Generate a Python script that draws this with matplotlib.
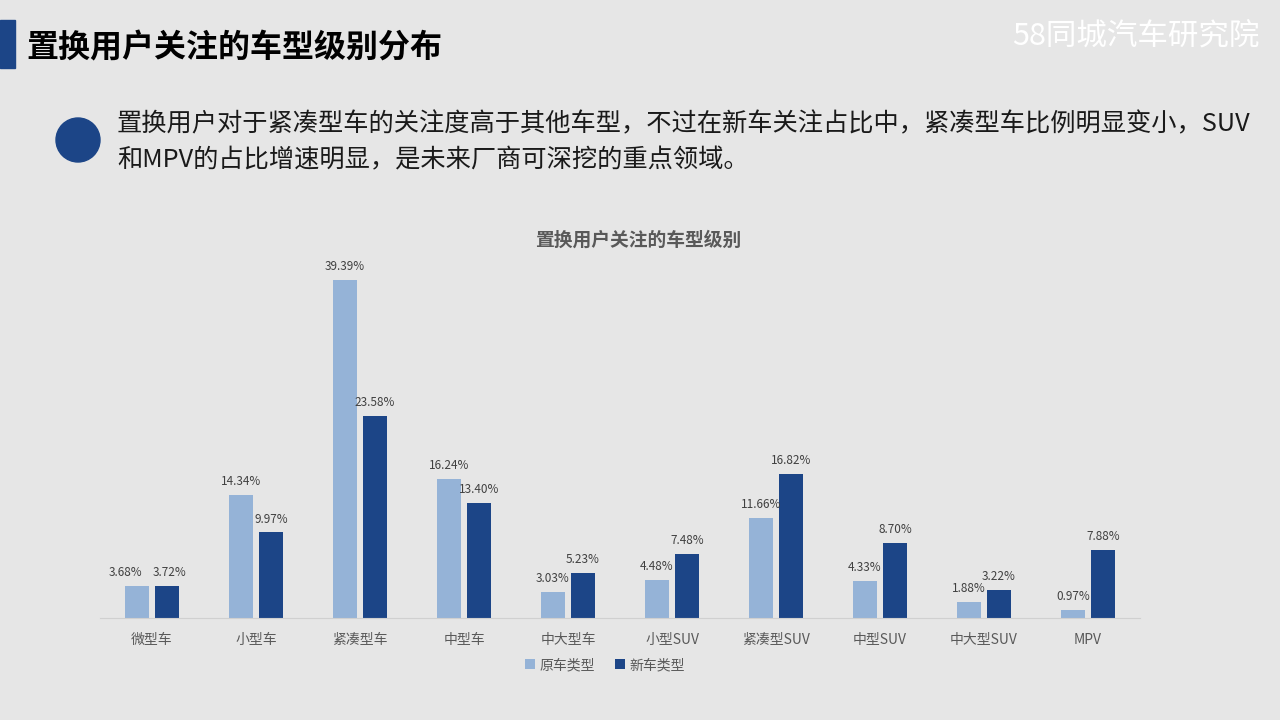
import numpy as np
import matplotlib
matplotlib.use("Agg")
import matplotlib.pyplot as plt
from matplotlib.patches import Rectangle, Ellipse

plt.rcParams['font.family'] = ['Noto Sans CJK SC', 'DejaVu Sans']

# data
categories = ['微型车', '小型车', '紧凑型车', '中型车', '中大型车',
              '小型SUV', '紧凑型SUV', '中型SUV', '中大型SUV', 'MPV']
old_type = [3.68, 14.34, 39.39, 16.24, 3.03, 4.48, 11.66, 4.33, 1.88, 0.97]
new_type = [3.72, 9.97, 23.58, 13.40, 5.23, 7.48, 16.82, 8.70, 3.22, 7.88]
series_names = ['原车类型', '新车类型']

bg = '#E6E6E6'
light = '#95B3D7'
dark = '#1C4587'

fig = plt.figure(figsize=(12.8, 7.2), dpi=100, facecolor=bg)

# header
fig.add_artist(Rectangle((0, 1 - 68 / 720), 15 / 1280, 48 / 720,
                         transform=fig.transFigure, color=dark))
fig.text(26 / 1280, 1 - 48 / 720, '置换用户关注的车型级别分布', fontsize=23,
         fontweight='heavy', color='black', va='center', ha='left')
fig.text(1260 / 1280, 1 - 36 / 720, '58同城汽车研究院', fontsize=22,
         fontweight='light', color='white', va='center', ha='right')

# bullet + summary text
fig.add_artist(Ellipse((78 / 1280, 1 - 140 / 720), 44 / 1280, 44 / 720,
                       transform=fig.transFigure, color=dark))
fig.text(117 / 1280, 1 - 124 / 720,
         '置换用户对于紧凑型车的关注度高于其他车型，不过在新车关注占比中，紧凑型车比例明显变小，SUV',
         fontsize=18.2, color='#1a1a1a', va='center', ha='left')
fig.text(117 / 1280, 1 - 160 / 720,
         '和MPV的占比增速明显，是未来厂商可深挖的重点领域。',
         fontsize=18.2, color='#1a1a1a', va='center', ha='left')

# chart
ax = fig.add_axes([100 / 1280, 1 - 618 / 720, 1040 / 1280, 45 * 8.58 / 720])
ax.set_facecolor(bg)
x = np.arange(len(categories))
w = 0.23
b1 = ax.bar(x - 0.145, old_type, w, color=light, label=series_names[0])
b2 = ax.bar(x + 0.145, new_type, w, color=dark, label=series_names[1])
for k, (bars, vals) in enumerate(((b1, old_type), (b2, new_type))):
    for i, (r, v) in enumerate(zip(bars, vals)):
        dx = 0
        if i == 0:  # labels pushed apart where they would collide
            dx = -8 if k == 0 else 2
        ax.annotate(f'{v:.2f}%', (r.get_x() + r.get_width() / 2, v),
                    xytext=(dx, 5), textcoords='offset points',
                    ha='center', va='bottom', fontsize=8.5, color='#404040')

ax.set_xlim(-0.5, len(categories) - 0.5)
ax.set_ylim(0, 45)
ax.set_yticks([])
ax.set_xticks(x)
ax.set_xticklabels(categories, fontsize=10, color='#595959')
ax.tick_params(axis='x', length=0, pad=11)
for s in ['top', 'right', 'left']:
    ax.spines[s].set_visible(False)
ax.spines['bottom'].set_color('#D0D0D0')

fig.text(638 / 1280, 1 - 240 / 720, '置换用户关注的车型级别', fontsize=13.5,
         fontweight='bold', color='#595959', ha='center', va='center')

fig.legend(loc='center', bbox_to_anchor=(605 / 1280, 1 - 665 / 720), ncol=2,
           frameon=False, fontsize=10, handlelength=0.7, handleheight=0.7,
           handletextpad=0.3, columnspacing=1.5, labelcolor='#595959')

fig.savefig('out.png', dpi=100, facecolor=bg)
